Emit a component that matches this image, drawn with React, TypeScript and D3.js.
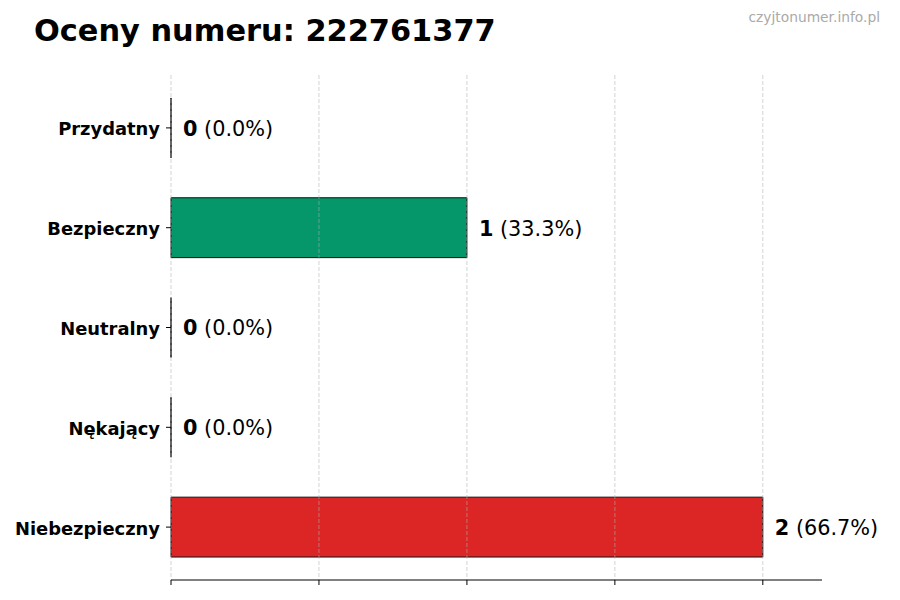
import React, { useEffect } from "react";
import * as d3 from "d3";

const categories = ["Przydatny", "Bezpieczny", "Neutralny", "Nękający", "Niebezpieczny"];
const counts = [0, 1, 0, 0, 2];
const percents = ["0.0%", "33.3%", "0.0%", "0.0%", "66.7%"];
const barColors = ["#2563eb", "#059669", "#6b7280", "#f59e0b", "#dc2626"];
const xTicks = [0, 0.5, 1, 1.5, 2];
const titleText = "Oceny numeru: 222761377";
const watermark = "czyjtonumer.info.pl";

const W = 900;
const H = 600;
const FONT = "'DejaVu Sans', sans-serif";

export default function App() {
  useEffect(() => {
    document.body.style.margin = "0";
  }, []);

  const x = d3.scaleLinear().domain([0, 2.2]).range([171, 822]);
  const y = d3.scaleLinear().domain([-0.53, 4.53]).range([75, 580]);
  const barH = 0.6;
  const axisY = y(4.53);
  const topY = y(-0.53);

  return (
    <svg width={W} height={H} style={{ display: "block", background: "#fff" }} fontFamily={FONT}>
      <text x={34} y={41} fontSize={30.4} fontWeight="bold" fill="#000">{titleText}</text>
      <text x={880} y={22} fontSize={13.8} fill="#aaaaaa" textAnchor="end">{watermark}</text>

      {categories.map((c, i) => {
        const x0 = x(0);
        const x1 = x(counts[i]);
        const y0 = y(i - barH / 2);
        const y1 = y(i + barH / 2);
        return (
          <path
            key={c}
            d={`M${x0},${y0}H${x1}V${y1}H${x0}Z`}
            fill={barColors[i]}
            stroke="#111"
            strokeWidth={1}
          />
        );
      })}

      {xTicks.map((t) => (
        <line key={"g" + t} x1={x(t)} x2={x(t)} y1={topY} y2={axisY}
          stroke="#b0b0b0" strokeOpacity={0.7} strokeWidth={0.8} strokeDasharray="4,2" />
      ))}

      <line x1={x(0)} x2={x(2.2)} y1={axisY} y2={axisY} stroke="#000" strokeWidth={1} />
      {xTicks.map((t) => (
        <line key={"t" + t} x1={x(t)} x2={x(t)} y1={axisY} y2={axisY + 5} stroke="#000" strokeWidth={1} />
      ))}

      {categories.map((c, i) => (
        <g key={"l" + c}>
          <line x1={x(0) - 5} x2={x(0)} y1={y(i)} y2={y(i)} stroke="#000" strokeWidth={1} />
          <text x={x(0) - 11} y={y(i)} dy="0.42em" textAnchor="end" fontSize={17.9} fontWeight="bold" fill="#000">{c}</text>
          <text x={x(counts[i]) + 12} y={y(i)} dy="0.38em" fontSize={20.8} fill="#000">
            <tspan fontWeight="bold">{counts[i]}</tspan>
            <tspan>{` (${percents[i]})`}</tspan>
          </text>
        </g>
      ))}
    </svg>
  );
}
